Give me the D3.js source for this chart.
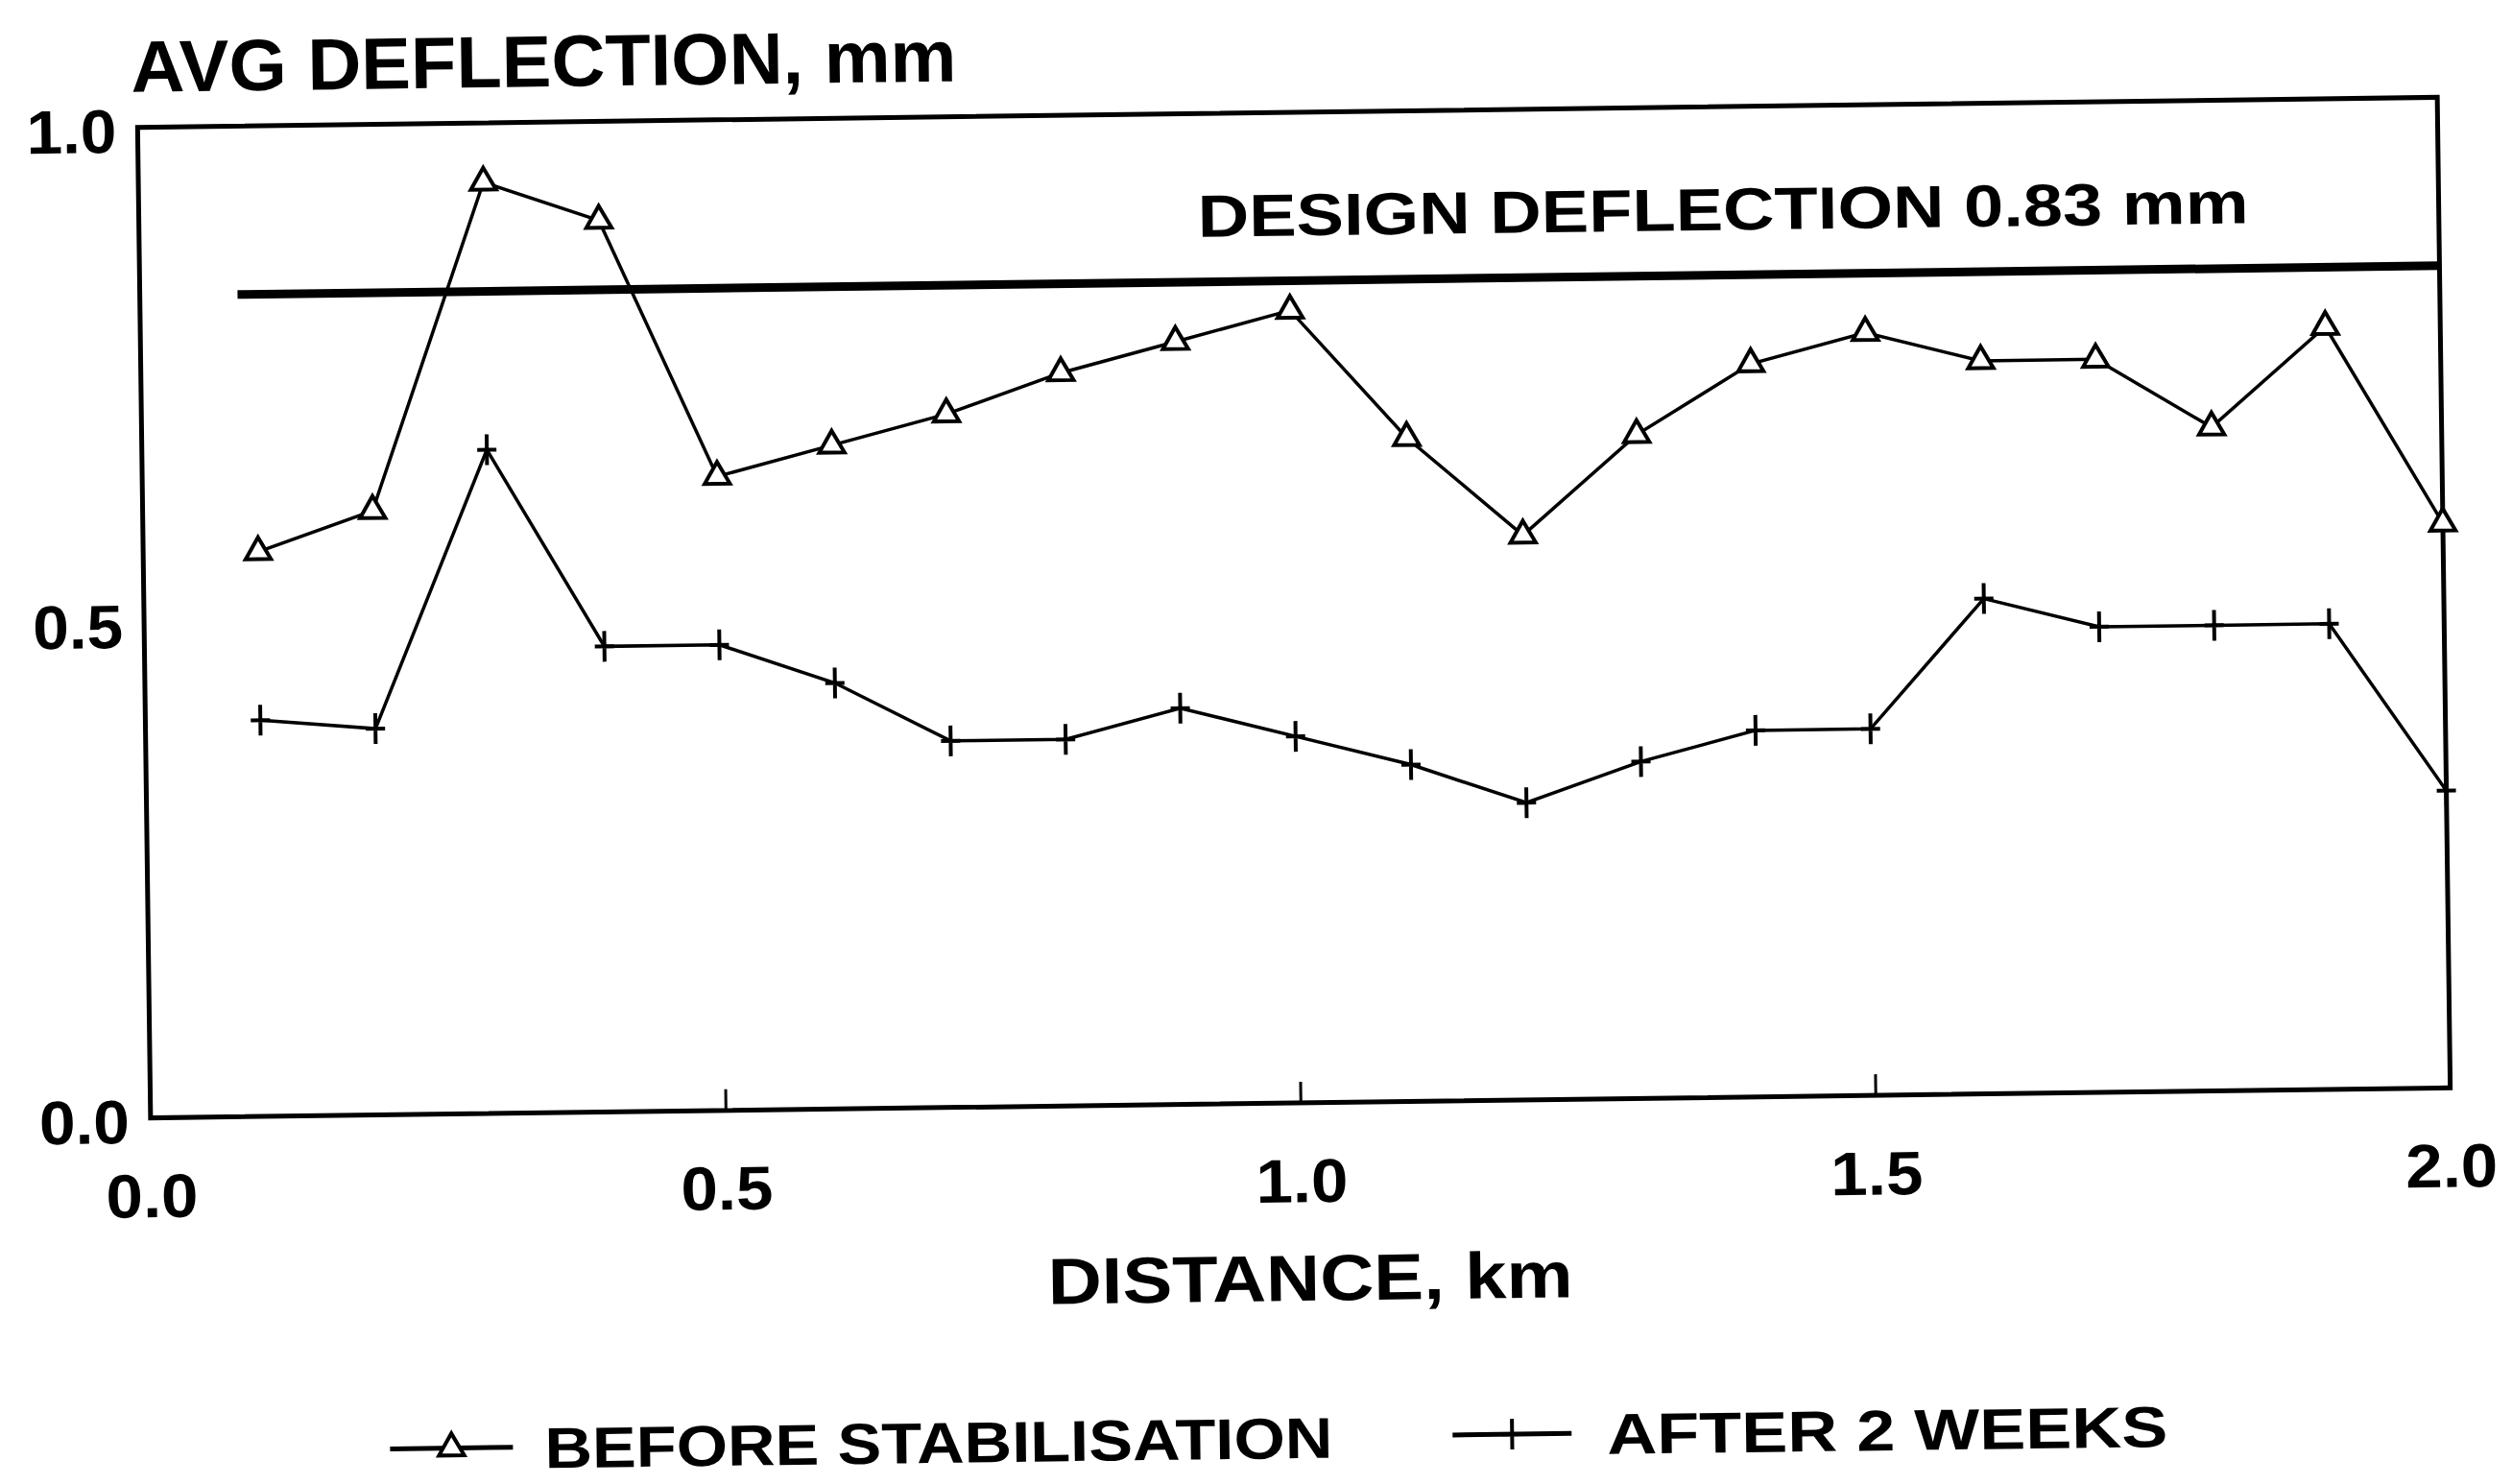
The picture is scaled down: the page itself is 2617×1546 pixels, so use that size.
<!DOCTYPE html>
<meta charset="utf-8">
<head>
	<title>Average deflection</title>
	<script src="https://cdn.jsdelivr.net/npm/d3@7/dist/d3.min.js"></script>
	<style>
		body { margin: 0; background: #fff; }
		text { font-family: "Liberation Sans", Arial, sans-serif; font-weight: bold; fill: #000; }
	</style>
</head>
<body>
<script>

	// data
	const distance = [0.1, 0.2, 0.3, 0.4, 0.5, 0.6, 0.7, 0.8, 0.9, 1.0,
	                  1.1, 1.2, 1.3, 1.4, 1.5, 1.6, 1.7, 1.8, 1.9, 2.0];
	const beforeStab = [0.57, 0.61, 0.94, 0.90, 0.64, 0.67, 0.70, 0.74, 0.77, 0.80,
	                    0.67, 0.57, 0.67, 0.74, 0.77, 0.74, 0.74, 0.67, 0.77, 0.57];
	const after2Weeks = [0.40, 0.39, 0.67, 0.47, 0.47, 0.43, 0.37, 0.37, 0.40, 0.37,
	                     0.34, 0.30, 0.34, 0.37, 0.37, 0.50, 0.47, 0.47, 0.47, 0.30];
	const designDeflection = 0.83;
	const designStart = 0.085;
	const xTicks = [0, 0.5, 1.0, 1.5, 2.0];
	const yTicks = [0, 0.5, 1.0];
	const seriesNames = ["BEFORE STABILISATION", "AFTER 2 WEEKS"];

	const width = 2617;
	const height = 1546;
	const margin = {left: 150, right: 71, top: 117, bottom: 397};
	const innerW = width - margin.left - margin.right;
	const innerH = height - margin.top - margin.bottom;

	const svg = d3.select("body").append("svg")
		.attr("width", width)
		.attr("height", height);

	svg.append("rect").attr("width", width).attr("height", height).attr("fill", "#fff");

	// the scan is slightly turned, so the whole drawing is too
	const g = svg.append("g")
		.attr("transform", "rotate(-0.75, 1348, 633)");

	const x = d3.scaleLinear().domain([0, 2]).range([margin.left, margin.left + innerW]);
	const y = d3.scaleLinear().domain([0, 1]).range([margin.top + innerH, margin.top]);

	// x axis: inward ticks, labels well below
	const xAxis = g.append("g")
		.attr("transform", `translate(0,${y(0)})`)
		.call(d3.axisBottom(x).tickValues(xTicks).tickSize(-22).tickPadding(58)
			.tickFormat(d3.format(".1f")));
	xAxis.select(".domain").remove();
	xAxis.selectAll("line").attr("stroke", "#000").attr("stroke-width", 3);
	xAxis.selectAll("text")
		.attr("font-size", 64)
		.attr("font-family", null)
		.attr("textLength", 96)
		.attr("lengthAdjust", "spacingAndGlyphs");

	const yAxis = g.append("g")
		.attr("transform", `translate(${x(0)},0)`)
		.call(d3.axisLeft(y).tickValues(yTicks).tickSize(0).tickPadding(22)
			.tickFormat(d3.format(".1f")));
	yAxis.select(".domain").remove();
	yAxis.selectAll("text")
		.attr("font-size", 64)
		.attr("font-family", null)
		.attr("dy", "0.4em")
		.attr("textLength", 94)
		.attr("lengthAdjust", "spacingAndGlyphs");

	// frame
	g.append("rect")
		.attr("x", x(0)).attr("y", y(1))
		.attr("width", x(2) - x(0)).attr("height", y(0) - y(1))
		.attr("fill", "none").attr("stroke", "#000").attr("stroke-width", 5);

	// design deflection line
	g.append("line")
		.attr("x1", x(designStart)).attr("x2", x(2))
		.attr("y1", y(designDeflection)).attr("y2", y(designDeflection))
		.attr("stroke", "#000").attr("stroke-width", 9);

	g.append("text")
		.attr("x", 1253).attr("y", y(designDeflection) - 47)
		.attr("font-size", 62)
		.attr("textLength", 1095)
		.attr("lengthAdjust", "spacingAndGlyphs")
		.text("DESIGN DEFLECTION  " + designDeflection + " mm");

	const line = d3.line().x((d, i) => x(distance[i])).y(d => y(d));

	g.append("path").datum(beforeStab)
		.attr("d", line).attr("fill", "none")
		.attr("stroke", "#000").attr("stroke-width", 3.5);
	g.append("path").datum(after2Weeks)
		.attr("d", line).attr("fill", "none")
		.attr("stroke", "#000").attr("stroke-width", 3.5);

	const tri = d3.symbol(d3.symbolTriangle, 300);
	const plus = "M0,-16V16M-10,0H10";

	g.append("g").selectAll("path")
		.data(beforeStab).join("path")
		.attr("transform", (d, i) => `translate(${x(distance[i])},${y(d)})`)
		.attr("d", tri)
		.attr("fill", "#fff").attr("stroke", "#000").attr("stroke-width", 4);

	g.append("g").selectAll("path")
		.data(after2Weeks).join("path")
		.attr("transform", (d, i) => `translate(${x(distance[i])},${y(d)})`)
		.attr("d", plus)
		.attr("fill", "none").attr("stroke", "#000").attr("stroke-width", 4);

	// axis titles
	g.append("text")
		.attr("x", 144).attr("y", 80)
		.attr("font-size", 76)
		.attr("textLength", 860)
		.attr("lengthAdjust", "spacingAndGlyphs")
		.text("AVG DEFLECTION, mm");

	g.append("text")
		.attr("x", x(1) + 8).attr("y", 1355)
		.attr("text-anchor", "middle")
		.attr("font-size", 68)
		.attr("textLength", 547)
		.attr("lengthAdjust", "spacingAndGlyphs")
		.text("DISTANCE, km");

	// legend
	const legend = g.append("g");
	const legendItems = [
		{name: seriesNames[0], x0: 395, x1: 523, tx: 556, tw: 821, mark: "tri"},
		{name: seriesNames[1], x0: 1502, x1: 1626, tx: 1663, tw: 584, mark: "plus"}
	];
	legendItems.forEach(function(k) {
		legend.append("line")
			.attr("x1", k.x0).attr("x2", k.x1)
			.attr("y1", 1497).attr("y2", 1497)
			.attr("stroke", "#000").attr("stroke-width", 5);
		legend.append("path")
			.attr("transform", `translate(${(k.x0 + k.x1) / 2},1497)`)
			.attr("d", k.mark == "tri" ? tri : plus)
			.attr("fill", k.mark == "tri" ? "#fff" : "none")
			.attr("stroke", "#000").attr("stroke-width", 4);
		legend.append("text")
			.attr("x", k.tx).attr("y", 1519)
			.attr("font-size", 60)
			.attr("textLength", k.tw)
			.attr("lengthAdjust", "spacingAndGlyphs")
			.text(k.name);
	});

</script>
</body>
</html>
